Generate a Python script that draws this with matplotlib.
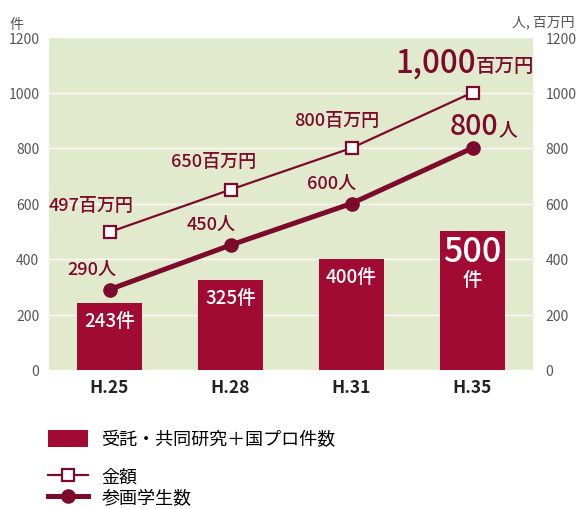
import matplotlib
matplotlib.use('Agg')
import matplotlib.pyplot as plt

plt.rcParams['font.family'] = ['Noto Sans CJK JP', 'DejaVu Sans']

# データ
years = ['H.25', 'H.28', 'H.31', 'H.35']
projects = [243, 325, 400, 500]      # 受託・共同研究＋国プロ件数
amount = [497, 650, 800, 1000]       # 金額（百万円）
students = [290, 450, 600, 800]      # 参画学生数
y_ticks = [0, 200, 400, 600, 800, 1000, 1200]

BAR = '#a00a33'
LINE = '#7c0a2c'
BG = '#e1eacd'
GRAY = '#555555'
W = 'medium'

fig = plt.figure(figsize=(5.77, 5.10), dpi=100)
ax = fig.add_axes([49 / 577, 1 - 371 / 510, 484 / 577, 333 / 510])
ax.set_facecolor(BG)

x = range(len(years))
bars = ax.bar(x, projects, width=0.535, color=BAR, zorder=2,
              label='受託・共同研究＋国プロ件数')
l_amt, = ax.plot(x, amount, color=LINE, lw=1.6, marker='s', ms=8,
                 mfc='white', mec=LINE, mew=1.6, zorder=4, label='金額')
l_std, = ax.plot(x, students, color=LINE, lw=3.6, marker='o', ms=9.5,
                 zorder=3, label='参画学生数')

ax.set_xlim(-0.5, 3.5)
ax.set_ylim(0, 1200)
ax.set_yticks(y_ticks)
ax.set_xticks(list(x))
ax.set_xticklabels(years, fontsize=12.5, fontweight='bold', color='#222222')
ax.tick_params(axis='x', length=0, pad=6)
ax.tick_params(axis='y', length=0, pad=7, labelsize=10, labelcolor=GRAY)
ax.yaxis.grid(True, color='white', lw=1, zorder=0)
ax.set_axisbelow(True)
for s in ax.spines.values():
    s.set_visible(False)

ax2 = ax.twinx()
ax2.set_ylim(0, 1200)
ax2.set_yticks(y_ticks)
ax2.tick_params(axis='y', length=0, pad=9, labelsize=10, labelcolor=GRAY)
for s in ax2.spines.values():
    s.set_visible(False)

# 棒ラベル
for i, v in enumerate(projects[:-1]):
    ax.annotate(f'{v}件', (i, v), xytext=(0, -18), textcoords='offset pixels',
                ha='center', va='center', color='white', fontsize=13.5,
                fontweight=W, zorder=5)
i = len(projects) - 1
ax.annotate(f'{projects[i]}', (i, projects[i]), xytext=(0, -20), textcoords='offset pixels',
            ha='center', va='center', color='white', fontsize=24.5, fontweight=W, zorder=5)
ax.annotate('件', (i, projects[i]), xytext=(0, -48), textcoords='offset pixels',
            ha='center', va='center', color='white', fontsize=14, fontweight=W, zorder=5)

# 金額ラベル
amt_off = [(-18, 27), (-17, 29), (-15, 28)]
for i, v in enumerate(amount[:-1]):
    ax.annotate(f'{v}百万円', (i, v), xytext=amt_off[i], textcoords='offset pixels',
                ha='center', va='center', color=LINE, fontsize=13, fontweight=W)
i = len(amount) - 1
ax.annotate(f'{amount[i]:,}', (i, amount[i]), xytext=(3, 21), textcoords='offset pixels',
            ha='right', va='baseline', color=LINE, fontsize=22.5, fontweight=W)
ax.annotate('百万円', (i, amount[i]), xytext=(3, 21), textcoords='offset pixels',
            ha='left', va='baseline', color=LINE, fontsize=14, fontweight=W)

# 学生数ラベル
std_off = [(-18, 21), (-19, 21), (-20, 21)]
for i, v in enumerate(students[:-1]):
    ax.annotate(f'{v}人', (i, v), xytext=std_off[i], textcoords='offset pixels',
                ha='center', va='center', color=LINE, fontsize=13, fontweight=W)
i = len(students) - 1
ax.annotate(f'{students[i]}', (i, students[i]), xytext=(26, 14), textcoords='offset pixels',
            ha='right', va='baseline', color=LINE, fontsize=20.5, fontweight=W)
ax.annotate('人', (i, students[i]), xytext=(26, 14), textcoords='offset pixels',
            ha='left', va='baseline', color=LINE, fontsize=13.5, fontweight=W)

# 単位
fig.text(16 / 577, 1 - 25 / 510, '件', ha='center', va='center', fontsize=10, color=GRAY)
fig.text(574 / 577, 1 - 22 / 510, '人, 百万円', ha='right', va='center', fontsize=10, color=GRAY)

# 凡例
fig.legend(handles=[bars], loc='center left', bbox_to_anchor=(48 / 577, 1 - 440 / 510),
           frameon=False, fontsize=13, handlelength=2.2, handleheight=1.1,
           handletextpad=0.75, borderpad=0, borderaxespad=0)
fig.legend(handles=[l_amt, l_std], loc='center left', bbox_to_anchor=(48 / 577, 1 - 488 / 510),
           frameon=False, fontsize=13, handlelength=2.2, handletextpad=0.75,
           labelspacing=0.2, borderpad=0, borderaxespad=0, numpoints=1)

fig.savefig('out.png', dpi=100)
